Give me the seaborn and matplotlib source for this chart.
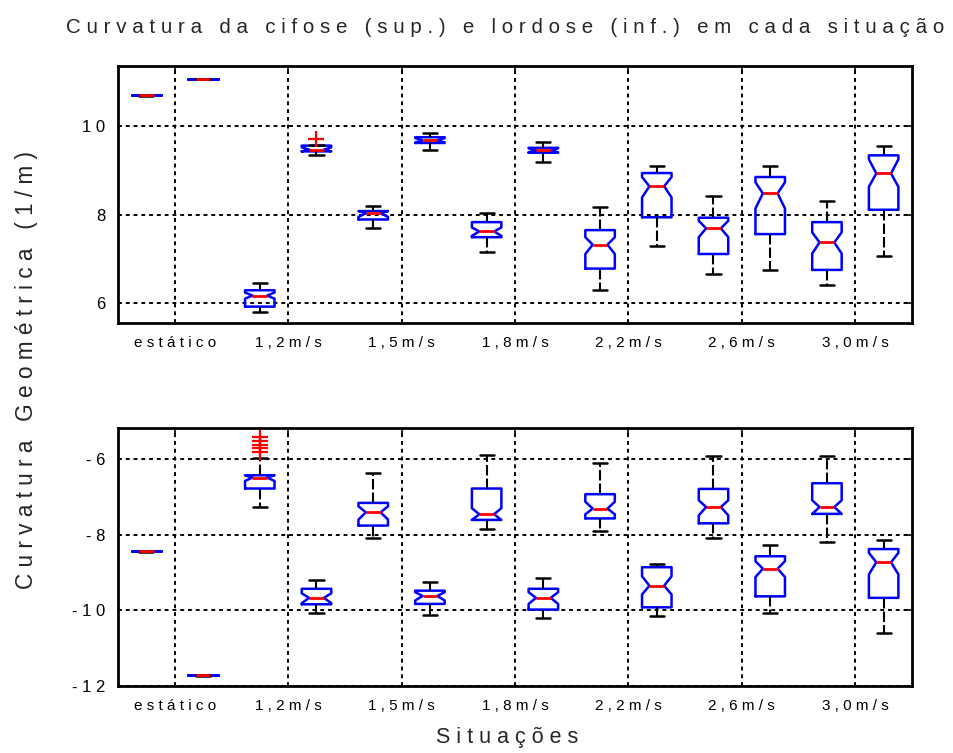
import matplotlib
matplotlib.use("Agg")
import matplotlib.pyplot as plt
import seaborn as sns

# ---------------- data ----------------
situacoes = ["estático", "1,2m/s", "1,5m/s", "1,8m/s", "2,2m/s", "2,6m/s", "3,0m/s"]
posicoes = list(range(1, 15))

# Cifose (upper panel) – box statistics, positions 1..14
cif_whislo = [10.69, 11.06, 5.80, 9.35, 7.70, 9.47, 7.16, 9.19, 6.29, 7.28, 6.66, 6.74, 6.41, 7.07]
cif_q1     = [10.70, 11.07, 5.92, 9.43, 7.89, 9.62, 7.49, 9.40, 6.78, 7.94, 7.11, 7.56, 6.75, 8.11]
cif_med    = [10.70, 11.07, 6.17, 9.47, 8.03, 9.68, 7.62, 9.45, 7.32, 8.64, 7.69, 8.48, 7.37, 8.93]
cif_q3     = [10.70, 11.07, 6.29, 9.56, 8.08, 9.75, 7.83, 9.51, 7.65, 8.94, 7.93, 8.85, 7.83, 9.34]
cif_whishi = [10.70, 11.07, 6.45, 9.58, 8.20, 9.84, 8.03, 9.64, 8.18, 9.09, 8.43, 9.09, 8.31, 9.55]
cif_cilo   = [10.70, 11.07, 6.10, 9.43, 7.95, 9.63, 7.52, 9.41, 7.11, 8.39, 7.49, 8.14, 7.12, 8.63]
cif_cihi   = [10.70, 11.07, 6.24, 9.52, 8.08, 9.73, 7.71, 9.50, 7.49, 8.85, 7.86, 8.73, 7.60, 9.25]
cif_fliers = [[], [], [], [9.71], [], [], [], [], [], [], [], [], [], []]

# Lordose (lower panel)
lor_whislo = [-8.45, -11.73, -7.27, -10.07, -8.09, -10.11, -7.84, -10.20, -7.90, -10.16, -8.08, -10.07, -8.19, -10.60]
lor_q1     = [-8.43, -11.71, -6.78, -9.84, -7.76, -9.83, -7.61, -9.98, -7.57, -9.92, -7.70, -9.63, -7.45, -9.67]
lor_med    = [-8.43, -11.71, -6.49, -9.67, -7.41, -9.62, -7.46, -9.67, -7.31, -9.35, -7.27, -8.90, -7.27, -8.73]
lor_q3     = [-8.43, -11.71, -6.43, -9.43, -7.16, -9.48, -6.78, -9.43, -6.93, -8.86, -6.79, -8.57, -6.64, -8.38]
lor_whishi = [-8.43, -11.71, -5.98, -9.20, -6.36, -9.26, -5.90, -9.14, -6.11, -8.77, -5.91, -8.28, -5.91, -8.14]
lor_cilo   = [-8.43, -11.71, -6.58, -9.81, -7.60, -9.74, -7.61, -9.83, -7.46, -9.58, -7.49, -9.12, -7.45, -9.05]
lor_cihi   = [-8.43, -11.71, -6.43, -9.55, -7.25, -9.52, -7.30, -9.52, -7.13, -9.10, -7.09, -8.70, -7.09, -8.48]
lor_fliers = [[], [], [-5.42, -5.52, -5.62, -5.72, -5.82], [], [], [], [], [], [], [], [], [], [], []]

cif_yticks = [6, 8, 10]
lor_yticks = [-12, -10, -8, -6]

titulo = "Curvatura da cifose (sup.) e lordose (inf.) em cada situação"
ylabel = "Curvatura Geométrica (1/m)"
xlabel = "Situações"

# ---------------- styling ----------------
sns.set_style("white")
FONT = ["Liberation Sans Narrow", "Liberation Sans", "DejaVu Sans"]
plt.rcParams["font.family"] = FONT
plt.rcParams["axes.unicode_minus"] = False


def spaced(s):
    return " ".join(s)


def make_stats(whislo, q1, med, q3, whishi, cilo, cihi, fliers):
    out = []
    for i in range(len(med)):
        out.append(dict(whislo=whislo[i], q1=q1[i], med=med[i], q3=q3[i],
                        whishi=whishi[i], cilo=cilo[i], cihi=cihi[i],
                        fliers=fliers[i]))
    return out


fig = plt.figure(figsize=(9.54, 7.53), dpi=100)
ax_top = fig.add_axes([118 / 954, 1 - 323 / 753, 794 / 954, 257 / 753])
ax_bot = fig.add_axes([118 / 954, 1 - 686 / 753, 794 / 954, 258 / 753])

panels = [
    (ax_top, make_stats(cif_whislo, cif_q1, cif_med, cif_q3, cif_whishi, cif_cilo, cif_cihi, cif_fliers),
     cif_yticks, (5.55, 11.36)),
    (ax_bot, make_stats(lor_whislo, lor_q1, lor_med, lor_q3, lor_whishi, lor_cilo, lor_cihi, lor_fliers),
     lor_yticks, (-12.0, -5.18)),
]

xtick_pos = [1.5 + 2 * i for i in range(len(situacoes))]

for ax, stats, yt, ylim in panels:
    ax.bxp(stats, positions=posicoes, widths=0.52, capwidths=0.25,
           shownotches=True, showfliers=True, patch_artist=False,
           boxprops=dict(color="#0000ff", linewidth=1.8),
           medianprops=dict(color="#ff0000", linewidth=2.0),
           whiskerprops=dict(color="black", linewidth=1.5, linestyle=(0, (5, 1.5))),
           capprops=dict(color="black", linewidth=1.8),
           flierprops=dict(marker="+", markeredgecolor="#ff0000", markersize=11,
                           markeredgewidth=1.6, linestyle="none"))
    ax.set_xlim(0.5, 14.5)
    ax.set_ylim(*ylim)
    ax.set_xticks(xtick_pos)
    ax.set_xticklabels([spaced(s) for s in situacoes], fontsize=11)
    ax.set_yticks(yt)
    ax.set_yticklabels([spaced(str(v)) for v in yt], fontsize=12)
    ax.grid(True, color="black", linestyle=(0, (2, 2)), linewidth=1.4)
    ax.set_axisbelow(True)
    ax.tick_params(direction="in", length=5, width=1.2, top=True, right=True,
                   colors="black", pad=9)
    for sp in ax.spines.values():
        sp.set_visible(True)
        sp.set_color("black")
        sp.set_linewidth(2.0)
    ax.set_facecolor("white")

fig.text(0.529, 0.963, spaced(titulo), ha="center", va="center", fontsize=14.8, family=FONT)
fig.text(0.028, 0.509, spaced(ylabel), ha="center", va="center", rotation=90, fontsize=16.3, family=FONT)
fig.text(0.532, 0.020, spaced(xlabel), ha="center", va="center", fontsize=15.5, family=FONT)

fig.savefig("out.png", dpi=100, facecolor="white")
